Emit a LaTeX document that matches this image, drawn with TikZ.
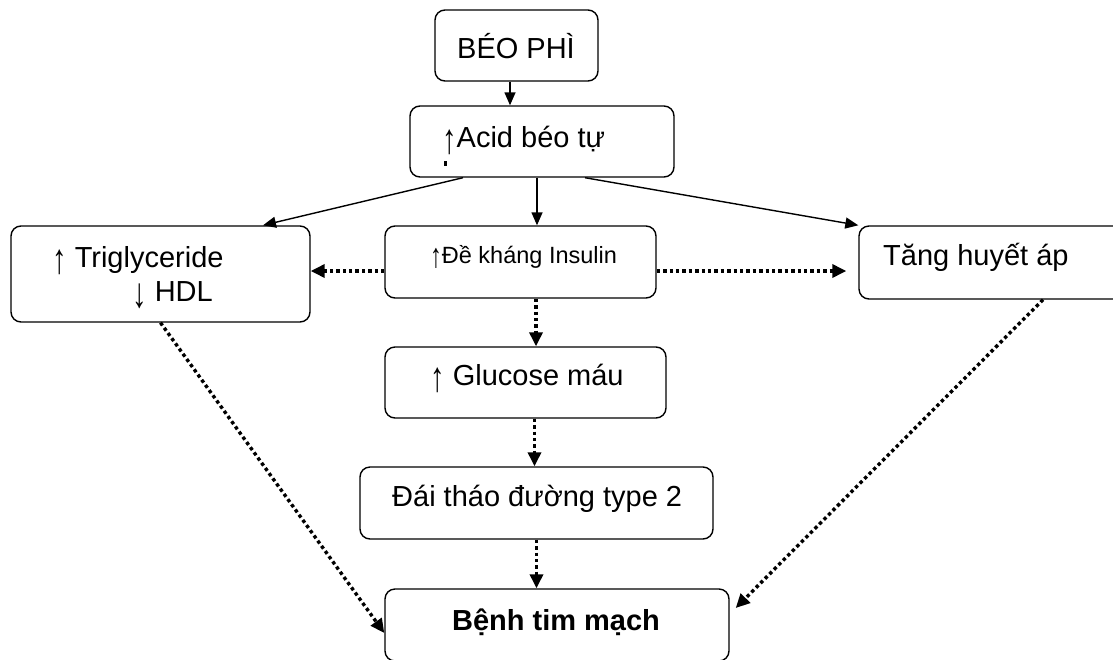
\documentclass[tikz,border=0pt]{standalone}
\usepackage{fontspec}
\usepackage{graphicx}
\setmainfont{Liberation Sans}
\usetikzlibrary{arrows.meta,calc}
\newcommand\uarr{\raisebox{-0.21em}{\scalebox{1}[1.45]{↑}}}
\newcommand\darr{\raisebox{-0.21em}{\scalebox{1}[1.45]{↓}}}
\begin{document}
\begin{tikzpicture}[x=1pt,y=-1pt,
  box/.style={draw,rounded corners=10pt,line width=1.4pt,inner sep=0pt},
  txt/.style={anchor=base west,inner sep=0pt,font=\fontsize{29}{34}\selectfont},
  solidarrow/.style={line width=1.4pt,-{Triangle[length=13pt,width=11pt]}},
  dotarrow/.style={line width=3.4pt,dash pattern=on 3.4pt off 3pt,-{Triangle[length=14pt,width=13pt]}}]
\useasboundingbox (0,0) rectangle (1113,659);
\begin{scope}
\clip (0,0) rectangle (1113,659);
% boxes
\node[box,minimum width=163pt,minimum height=71pt] (beo) at (516.5,45.5) {};
\node[box,minimum width=264pt,minimum height=71pt] (acid) at (542,141.5) {};
\node[box,minimum width=299pt,minimum height=96pt] (trig) at (160.5,274) {};
\node[box,minimum width=271pt,minimum height=72pt] (insu) at (520.5,262) {};
\node[box,minimum width=266pt,minimum height=73pt] (tang) at (992,262.5) {};
\node[box,minimum width=281pt,minimum height=71pt] (gluc) at (525.5,382.5) {};
\node[box,minimum width=353pt,minimum height=72pt] (dai) at (536.5,503) {};
\node[box,minimum width=344pt,minimum height=72pt] (benh) at (557,625) {};
% texts
\node[txt,anchor=base] (tbeo) at (516,58) {BÉO PHÌ};
\node[txt] (tacid) at (442,147) {\uarr Acid béo tự};
\node[txt] (ttrig) at (52,267) {\uarr\ Triglyceride};
\node[txt] (thdl) at (132,301) {\darr\ HDL};
\node[txt,font=\fontsize{23.5}{28}\selectfont] (tinsu) at (430,263) {\uarr Đề kháng Insulin};
\node[txt] (ttang) at (883,265) {Tăng huyết áp};
\node[txt] (tgluc) at (430,385) {\uarr\ Glucose máu};
\node[txt] (tdai) at (392,506) {Đái tháo đường type 2};
\node[txt,anchor=base,font=\fontsize{29}{34}\selectfont\bfseries] (tbenh) at (556,630) {Bệnh tim mạch};
\fill (444,161) rectangle (446.5,166);
% connectors
\draw[solidarrow] ([xshift=-6.5pt]beo.south) -- ([xshift=-6.5pt]beo.south |- acid.north);
\draw[solidarrow] ([xshift=-79pt]acid.south) -- ([xshift=102.5pt]trig.north);
\draw[solidarrow] ([xshift=-5pt]acid.south) -- ([xshift=-5pt]acid.south |- insu.north);
\draw[solidarrow] ([xshift=43pt]acid.south) -- (tang.north west);
\draw[dotarrow] ([yshift=-9pt]insu.west) -- ([yshift=-9pt]insu.west -| trig.east);
\draw[dotarrow] ([yshift=-9pt]insu.east) -- ([xshift=-12pt,yshift=-9pt]insu.east -| tang.west);
\draw[dotarrow] ([xshift=15.5pt]insu.south) -- ([xshift=15.5pt]insu.south |- gluc.north);
\draw[dotarrow] ([xshift=9pt]gluc.south) -- ([xshift=9pt]gluc.south |- dai.north);
\draw[dotarrow] (dai.south) -- (dai.south |- benh.north);
\draw[dotarrow] (trig.south) -- ([yshift=-8pt]benh.west);
\draw[dotarrow] ([xshift=51pt]tang.south) -- ([xshift=6pt,yshift=17pt]benh.east);
\end{scope}
\end{tikzpicture}
\end{document}
